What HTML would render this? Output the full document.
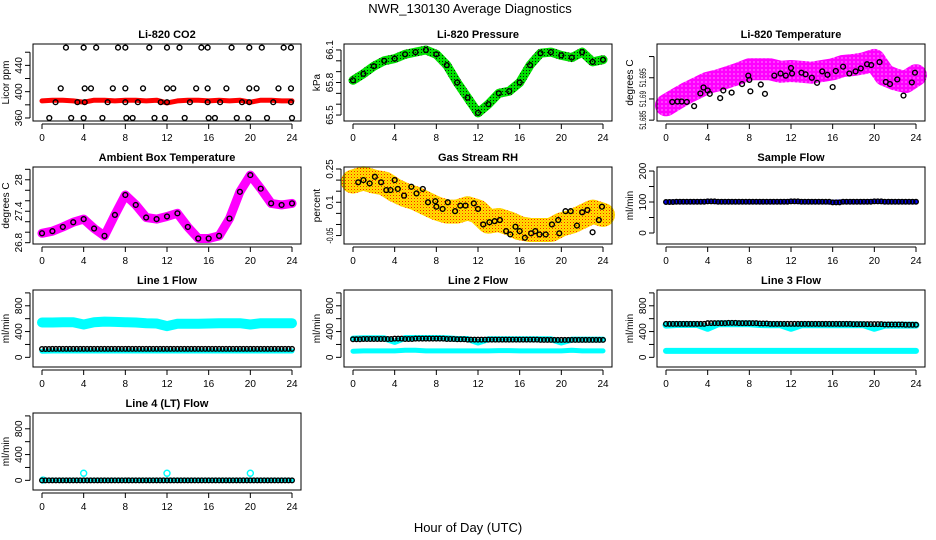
<!DOCTYPE html>
<html><head><meta charset="utf-8">
<style>
html,body{margin:0;padding:0;background:#fff;}
svg{display:block;font-family:"Liberation Sans",sans-serif;}
</style></head>
<body>
<svg id="chart" width="936" height="540" viewBox="0 0 936 540" xmlns="http://www.w3.org/2000/svg">
<defs>
<pattern id="pGreen" width="3" height="3" patternUnits="userSpaceOnUse"><rect width="3" height="3" fill="#00e000"/><rect x="1" y="1" width="1" height="1" fill="#111"/></pattern>
<pattern id="pMag" width="4" height="4" patternUnits="userSpaceOnUse"><rect width="4" height="4" fill="#ff00ff"/><rect x="1.5" y="1.5" width="1" height="1" fill="#fff"/></pattern>
<pattern id="pRH" width="3" height="3" patternUnits="userSpaceOnUse"><rect width="3" height="3" fill="#ffe000"/><rect x="0" y="0" width="1" height="1" fill="#ff2000"/><rect x="1.5" y="1.5" width="1" height="1" fill="#ff9000"/></pattern>
</defs>
<text x="470" y="13" font-size="13" text-anchor="middle">NWR_130130  Average Diagnostics</text>
<text x="468" y="532" font-size="13" text-anchor="middle">Hour of Day (UTC)</text>
<g id="plots"></g>
</svg>
<script>
// ---- data arrays ----
const hours = [0,1,2,3,4,5,6,7,8,9,10,11,12,13,14,15,16,17,18,19,20,21,22,23,24];
const xTicks = [0,4,8,12,16,20,24];

const co2Band = [386,387,387,386,384,387,387,386,387,387,386,387,383,386,387,387,386,387,386,387,384,387,387,386,386];
const co2PtT = [2.3,4.0,5.2,7.3,8.0,10.3,12.0,13.2,15.3,15.9,18.2,19.9,21.1,23.2,23.9,
  1.8,4.1,4.7,6.8,8.0,9.7,12.0,12.6,14.8,15.9,17.7,19.9,20.6,22.7,23.9,
  1.3,3.4,4.1,6.3,8.0,9.2,11.4,12.0,14.2,15.9,17.1,19.2,19.9,22.2,23.9,
  0.7,2.8,4.0,5.8,8.1,8.7,10.8,11.8,13.7,16.0,16.6,18.7,19.8,21.6,24.0];
const co2PtV = [467,467,467,467,467,467,467,467,467,467,467,467,467,467,467,
  405,405,405,405,405,405,405,405,405,405,405,405,405,405,405,
  384,384,384,384,384,384,384,384,384,384,384,384,384,384,384,
  360,360,360,360,360,360,360,360,360,360,360,360,360,360,360];

const pressure = [65.82,65.88,65.95,66.0,66.02,66.06,66.08,66.10,66.06,65.96,65.80,65.66,65.52,65.60,65.70,65.72,65.80,65.96,66.07,66.08,66.05,66.03,66.08,65.99,66.01];

const liTempBand = [51.6885,51.6900,51.6914,51.6926,51.6938,51.6944,51.6952,51.6960,51.6970,51.6970,51.6970,51.6964,51.6966,51.6964,51.6962,51.6966,51.6970,51.6978,51.6980,51.6984,51.6992,51.6956,51.6946,51.6940,51.6956];
const liTempPtT = [0.6,1.1,1.5,2.0,2.7,3.3,3.6,4.0,4.2,5.2,5.5,6.3,7.3,7.9,8.0,8.1,9.1,9.5,10.4,11.0,11.5,12.0,12.1,13.0,13.4,14.0,14.5,15.0,15.5,16.0,16.3,17.0,17.6,18.2,18.7,19.3,19.7,20.5,21.1,21.5,22.2,22.8,23.6,23.9];
const liTempPtV = [51.6893,51.6894,51.6894,51.6893,51.6883,51.6913,51.6927,51.6920,51.6912,51.6902,51.6920,51.6915,51.6935,51.6955,51.6945,51.6918,51.6934,51.6912,51.6955,51.6960,51.6955,51.6973,51.6960,51.6962,51.6958,51.6950,51.6938,51.6965,51.6957,51.6928,51.6966,51.6976,51.6960,51.6965,51.6972,51.6982,51.6980,51.6987,51.6940,51.6935,51.6946,51.6908,51.6939,51.6962];

const ambTemp = [26.98,27.02,27.10,27.19,27.25,27.07,26.93,27.33,27.71,27.52,27.28,27.25,27.30,27.36,27.10,26.88,26.88,26.93,27.26,27.77,28.09,27.83,27.55,27.52,27.55];

const rhBand = [0.193,0.208,0.193,0.185,0.155,0.133,0.118,0.095,0.073,0.058,0.058,0.073,0.058,0.013,0.020,0.005,-0.017,-0.025,-0.025,-0.025,0.0,0.013,0.035,0.058,0.043];
const rhPtT = [0.5,1.0,1.6,2.1,2.7,3.2,3.6,4.0,4.3,4.9,5.6,6.1,6.7,7.2,7.9,8.0,8.6,9.1,9.8,10.3,10.8,11.6,12.0,12.5,13.1,13.6,14.1,14.7,15.1,15.6,16.0,16.5,17.1,17.5,17.9,18.5,19.1,19.7,19.8,20.4,20.9,21.5,22.0,22.5,23.0,23.6,23.9];
const rhPtV = [0.19,0.20,0.185,0.215,0.19,0.155,0.155,0.20,0.16,0.13,0.17,0.14,0.16,0.10,0.105,0.08,0.07,0.10,0.06,0.085,0.085,0.095,0.07,0.0,0.01,0.015,0.02,-0.03,-0.045,-0.01,-0.03,-0.06,-0.04,-0.03,-0.045,-0.045,0.0,0.02,-0.04,0.06,0.06,-0.005,0.055,0.065,-0.035,0.02,0.08];

const sampleFlow = [100,101,101,101,102,101,101,101,101,101,101,101,102,101,101,101,99,101,101,101,102,101,101,101,101];

const line1Hi = [540,540,545,545,510,545,555,550,545,540,530,525,485,520,520,520,525,530,530,530,510,530,530,530,530];
const line1Lo = [95,98,98,98,98,98,98,98,98,98,98,98,98,98,98,98,98,98,98,98,98,98,98,98,98];
const line1Blk = [130,132,132,132,132,132,132,132,132,132,132,132,132,132,132,132,132,132,132,132,132,132,132,132,132];

const line2Hi = [290,295,295,295,240,300,300,300,300,295,285,285,230,280,280,280,280,280,280,280,230,275,275,275,275];
const line2Lo = [95,100,100,100,100,110,110,100,100,100,100,100,100,100,105,105,100,100,100,100,100,110,100,100,100];
const line2Blk = [280,285,285,285,290,285,290,290,290,285,280,275,275,275,275,275,275,275,270,270,270,270,270,270,270];

const line3Hi = [500,510,510,510,450,520,520,520,520,510,505,505,450,505,505,505,505,505,505,505,450,500,500,500,500];
const line3Lo = [100,100,100,100,100,100,100,100,100,100,100,100,100,100,100,100,100,100,100,100,100,100,100,100,100];
const line3Blk = [520,520,520,520,530,530,535,530,530,525,520,520,520,520,520,520,520,520,515,515,515,510,510,505,505];

const line4Blk = [0,0,0,0,0,0,0,0,0,0,0,0,0,0,0,0,0,0,0,0,0,0,0,0,0];
const line4SpikeT = [0.1,4,12,20];
const line4SpikeV = [5,110,110,110];

// ---- helpers ----
const NS = "http://www.w3.org/2000/svg";
const root = document.getElementById('plots');
function el(tag, attrs, parent, txt){
  const e = document.createElementNS(NS, tag);
  for (const k in attrs) e.setAttribute(k, attrs[k]);
  if (txt !== undefined) e.textContent = txt;
  (parent||root).appendChild(e);
  return e;
}
const colX = [33,344,657];
const rowY = [44,167,290,413];
const W = 268, H = 77;

function panel(c, r, ylo, yhi, yticks, ylabels, ylab, title, name){
  const x0 = colX[c], y0 = rowY[r];
  const g = el('g', {});
  
  
  const sx = t => x0 + 9 + t * (W - 18) / 24;
  const sy = v => y0 + H - (v - ylo) / (yhi - ylo) * H;
  const t1 = el('text', {x: x0 + W/2, y: y0 - 6, 'font-size': 11, 'font-weight': 'bold', 'text-anchor': 'middle'}, g, title);
  
  
  const data = el('g', {}, g);
  
  
  const box = el('rect', {x: x0, y: y0, width: W, height: H, fill: 'none', stroke: '#000', 'stroke-width': 1}, g);
  
  
  const xa = el('g', {}, g);
  
  
  el('line', {x1: sx(0), x2: sx(24), y1: y0+H+3, y2: y0+H+3, stroke: '#000'}, xa);
  xTicks.forEach(t => {
    el('line', {x1: sx(t), x2: sx(t), y1: y0+H+3, y2: y0+H+8, stroke: '#000'}, xa);
    const lb = el('text', {x: sx(t), y: y0+H+20, 'font-size': 10, 'text-anchor': 'middle'}, xa, String(t));
    
    
  });
  const ya = el('g', {}, g);
  
  
  el('line', {x1: x0-3, x2: x0-3, y1: sy(yticks[0]), y2: sy(yticks[yticks.length-1]), stroke: '#000'}, ya);
  yticks.forEach(v => el('line', {x1: x0-3, x2: x0-8, y1: sy(v), y2: sy(v), stroke: '#000'}, ya));
  ylabels.forEach(v => {
    const yy = sy(v);
    const s = String(v);
    const attrs = {x: x0-11, y: yy, 'font-size': 10, 'text-anchor': 'middle', transform: `rotate(-90 ${x0-11} ${yy})`};
    if (s.length > 4) { attrs['font-size'] = 9; attrs['textLength'] = Math.round(3.2 * s.length); attrs['lengthAdjust'] = 'spacingAndGlyphs'; }
    const lb = el('text', attrs, ya, s);
    
    
  });
  const yt = el('text', {x: x0-24, y: y0+H/2, 'font-size': 10, 'text-anchor': 'middle', transform: `rotate(-90 ${x0-24} ${y0+H/2})`}, g, ylab);
  
  
  return {sx, sy, g: data};
}
function band(p, vals, color, width){
  const pts = hours.map((t,i) => p.sx(t).toFixed(1) + ',' + p.sy(vals[i]).toFixed(1)).join(' ');
  const pl = el('polyline', {points: pts, fill: 'none', stroke: color, 'stroke-width': width, 'stroke-linejoin': 'round', 'stroke-linecap': 'round'}, p.g);
  
  
}
function circles(p, ts, vs, color, r){
  ts.forEach((t,i) => {
    const c = el('circle', {cx: p.sx(t), cy: p.sy(vs[i]), r: r||2.4, fill: 'none', stroke: color||'#000', 'stroke-width': 1.4}, p.g);
    
    
  });
}
function denseCircles(p, vals, color){
  hours.forEach((t,i) => {
    [0, 1/3, 2/3].forEach(d => {
      if (t + d > 24) return;
      const c = el('circle', {cx: p.sx(t+d), cy: p.sy(vals[i]), r: 2.3, fill: 'none', stroke: color||'#000', 'stroke-width': 1.4}, p.g);
      
      
    });
  });
}
const flowTicks = [0,200,400,600,800,1000];
const flowLabels = [0,400,800];

let p = panel(0,0,355.4,472.5,[360,380,400,420,440,460],[360,400,440],'Licor ppm','Li-820 CO2','co2');
band(p, co2Band, '#ff0000', 5);
circles(p, co2PtT, co2PtV);

p = panel(1,0,65.445,66.155,[65.5,65.6,65.7,65.8,65.9,66.0,66.1],[65.5,65.8,66.1],'kPa','Li-820 Pressure','pressure');
band(p, pressure, 'url(#pGreen)', 9);
circles(p, hours, pressure);

p = panel(2,0,51.6848,51.70296,[51.685,51.69,51.695,51.7],[51.685,51.69,51.695],'degrees C','Li-820 Temperature','li820-temp');
band(p, liTempBand, 'url(#pMag)', 22);
circles(p, liTempPtT, liTempPtV);

p = panel(0,1,26.775,28.244,[26.8,27.0,27.2,27.4,27.6,27.8,28.0,28.2],[26.8,27.4,28.0],'degrees C','Ambient Box Temperature','ambient-temp');
band(p, ambTemp, '#ff00ff', 9);
circles(p, hours, ambTemp);

p = panel(1,1,-0.088,0.259,[-0.05,0,0.05,0.10,0.15,0.20,0.25],[-0.05,0.10,0.25],'percent','Gas Stream RH','rh');
band(p, rhBand, 'url(#pRH)', 24);
circles(p, rhPtT, rhPtV);

p = panel(2,1,-35.5,213,[0,50,100,150,200],[0,100,200],'ml/min','Sample Flow','sample-flow');
band(p, sampleFlow, '#0000ff', 5);
denseCircles(p, sampleFlow, '#000');

p = panel(0,2,-150,1045,flowTicks,flowLabels,'ml/min','Line 1 Flow','line1-flow');
band(p, line1Hi, '#00ffff', 10);
band(p, line1Lo, '#00ffff', 5);
denseCircles(p, line1Blk, '#000');

p = panel(1,2,-150,1045,flowTicks,flowLabels,'ml/min','Line 2 Flow','line2-flow');
band(p, line2Hi, '#00ffff', 6);
band(p, line2Lo, '#00ffff', 5);
denseCircles(p, line2Blk, '#000');

p = panel(2,2,-150,1045,flowTicks,flowLabels,'ml/min','Line 3 Flow','line3-flow');
band(p, line3Hi, '#00ffff', 7);
band(p, line3Lo, '#00ffff', 6);
denseCircles(p, line3Blk, '#000');

p = panel(0,3,-150,1045,flowTicks,flowLabels,'ml/min','Line 4 (LT) Flow','line4-flow');
band(p, line4Blk, '#00ffff', 5);
circles(p, line4SpikeT, line4SpikeV, '#00ffff', 3);
denseCircles(p, line4Blk, '#000');
</script>
</body></html>
